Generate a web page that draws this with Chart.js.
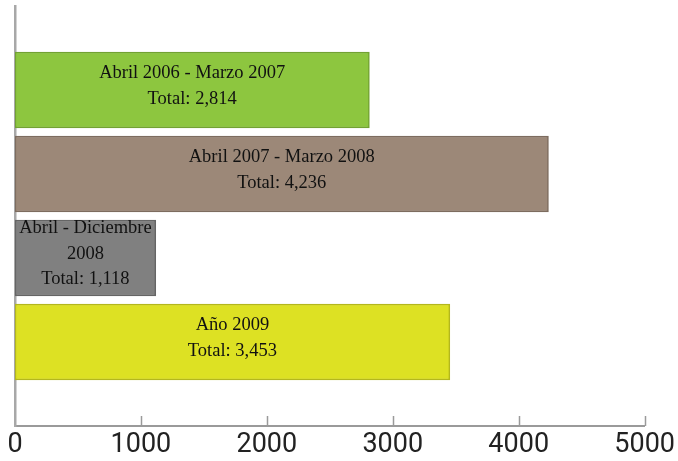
<!DOCTYPE html>
<html>
<head>
<meta charset="utf-8">
<script src="https://cdn.jsdelivr.net/npm/chart.js@4"></script>
<style>
  html, body { margin: 0; padding: 0; background: #fff; }
  #wrap { width: 678px; height: 461px; }
</style>
</head>
<body>
<div id="wrap"><canvas id="chart"></canvas></div>
<script>
// periodos (vacios al principio y al final para dejar el hueco arriba y abajo)
const categories = ['', 'Abril 2006 - Marzo 2007', 'Abril 2007 - Marzo 2008', 'Abril - Diciembre 2008', 'Año 2009', ''];
const totals = [null, 2814, 4236, 1118, 3453, null];
const barLabels = [
    [],
    ['Abril 2006 - Marzo 2007', 'Total: 2,814'],
    ['Abril 2007 - Marzo 2008', 'Total: 4,236'],
    ['Abril - Diciembre', '2008', 'Total: 1,118'],
    ['Año 2009', 'Total: 3,453'],
    []
];
const xTicks = [0, 1000, 2000, 3000, 4000, 5000];

const fillColors = ['#fff', '#8dc63f', '#9c8878', '#808080', '#dde123', '#fff'];
const edgeColors = ['#fff', '#72a232', '#7d6c5f', '#656565', '#b4b71c', '#fff'];

// texto dentro de cada barra
const insideText = {
    id: 'insideText',
    afterDatasetsDraw(chart) {
        const ctx = chart.ctx;
        const meta = chart.getDatasetMeta(0);
        ctx.save();
        ctx.font = '18.5px "Liberation Serif", "Times New Roman", serif';
        ctx.fillStyle = '#111';
        ctx.textAlign = 'center';
        ctx.textBaseline = 'middle';
        meta.data.forEach((bar, i) => {
            const lines = barLabels[i];
            if (!lines || !lines.length) return;
            const cx = (bar.x + bar.base) / 2;
            const lh = 25.5;
            const y0 = bar.y - (lines.length - 1) * lh / 2 - 4;
            lines.forEach((t, j) => ctx.fillText(t, cx, y0 + j * lh));
        });
        ctx.restore();
    }
};

// marcas de graduacion hacia arriba
const innerTicks = {
    id: 'innerTicks',
    afterDraw(chart) {
        const ctx = chart.ctx;
        const xs = chart.scales.x;
        const bottom = chart.chartArea.bottom;
        ctx.save();
        ctx.strokeStyle = '#9a9a9a';
        ctx.lineWidth = 1.5;
        xTicks.forEach(v => {
            if (v === 0) return;
            const px = Math.round(xs.getPixelForValue(v)) + 0.5;
            ctx.beginPath();
            ctx.moveTo(px, bottom);
            ctx.lineTo(px, bottom - 10);
            ctx.stroke();
        });
        ctx.restore();
    }
};

new Chart(document.getElementById('chart'), {
    type: 'bar',
    data: {
        labels: categories,
        datasets: [{
            data: totals,
            backgroundColor: fillColors,
            borderColor: edgeColors,
            borderWidth: 1.5,
            borderSkipped: false,
            barThickness: 76
        }]
    },
    options: {
        indexAxis: 'y',
        responsive: true,
        maintainAspectRatio: false,
        animation: false,
        layout: { padding: { left: 15, right: 32, top: 6, bottom: 0 } },
        plugins: {
            legend: { display: false },
            tooltip: { enabled: false }
        },
        scales: {
            x: {
                type: 'linear',
                min: 0,
                max: 5000,
                afterBuildTicks(scale) {
                    scale.ticks = xTicks.map(v => ({ value: v }));
                },
                afterFit(scale) { scale.height = 35; },
                grid: { display: false, drawTicks: false },
                border: { display: true, color: '#9a9a9a', width: 2 },
                ticks: {
                    padding: 3,
                    color: '#222',
                    font: { family: 'Roboto, "Open Sans", sans-serif', size: 27 },
                    maxRotation: 0,
                    autoSkip: false,
                    callback: v => String(v)
                }
            },
            y: {
                offset: false,
                afterFit(scale) { scale.width = 0; },
                grid: { display: false, drawTicks: false },
                border: { display: true, color: '#a8a8a8', width: 2.5 },
                ticks: { display: false }
            }
        }
    },
    plugins: [insideText, innerTicks]
});
</script>
</body>
</html>
